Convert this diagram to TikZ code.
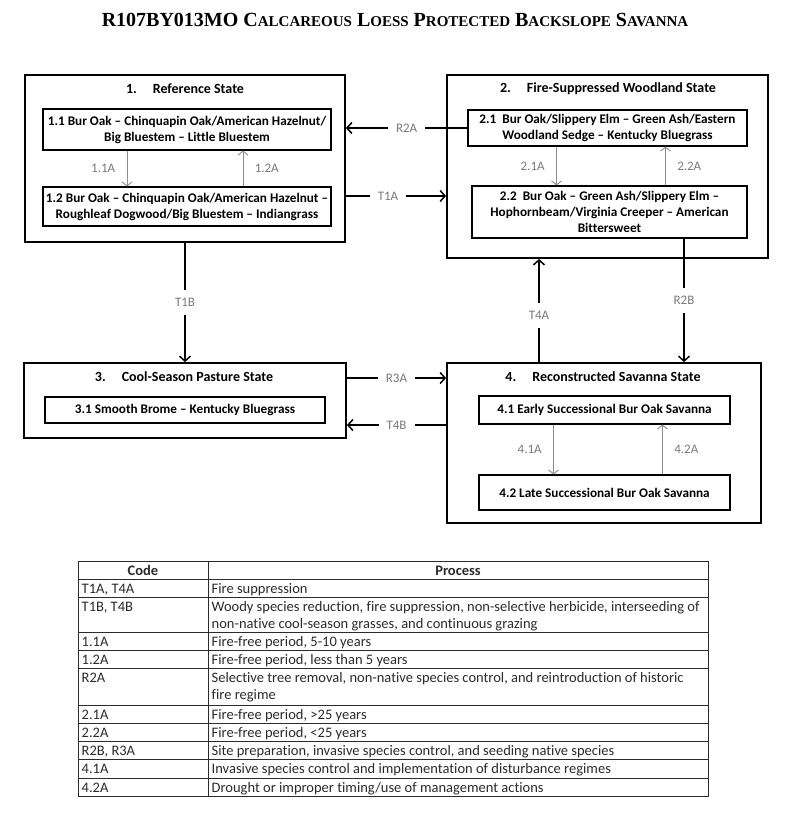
\documentclass[tikz,border=0pt]{standalone}
\usepackage{fontspec}
\setmainfont{Carlito}[Ligatures={TeX,NoCommon}]
\newfontfamily\titlefont{Liberation Serif}
\usetikzlibrary{positioning, arrows.meta, calc}
\definecolor{labelgray}{HTML}{7A7A7A}
\definecolor{pathgray}{HTML}{8C8C8C}
\definecolor{tablegray}{HTML}{2B2B2B}

% fake small caps for the heading
\newcommand{\titlesc}[2]{#1{\fontsize{15}{18}\selectfont #2}}

\tikzset{
  statebox/.style={draw, line width=1.8pt, minimum width=#1, inner sep=0pt},
  statetitle/.style={font=\bfseries\fontsize{14}{17}\selectfont},
  phasebox/.style={draw, line width=1.1pt, align=center, inner sep=0pt,
    font=\bfseries\fontsize{13.2}{16}\selectfont},
  trans/.style={line width=1.5pt, -{Straight Barb[length=5pt, width=11pt, line width=1.5pt]}},
  translabel/.style={fill=white, inner xsep=8pt, text=labelgray,
    font=\fontsize{13}{15}\selectfont},
  pathway/.style={draw=pathgray, line width=0.9pt, -{Straight Barb[length=4pt, width=10pt]}},
  pathlabel/.style={text=labelgray, font=\fontsize{13}{15}\selectfont},
  cell/.style={anchor=base west, inner sep=0pt, text=tablegray,
    font=\fontsize{14.5}{17}\selectfont},
}

\begin{document}
\begin{tikzpicture}[x=1pt, y=-1pt]
  \useasboundingbox[fill=white] (0,0) rectangle (800,819);

  \node[font=\titlefont\bfseries\fontsize{20}{24}\selectfont] (title) at (395,20)
    {R107BY013MO \titlesc{C}{ALCAREOUS} \titlesc{L}{OESS} \titlesc{P}{ROTECTED} \titlesc{B}{ACKSLOPE} \titlesc{S}{AVANNA}};

  % states
  \node[statebox=320pt, minimum height=167pt] (s1) at (185,158.5) {};
  \node[statebox=321pt, minimum height=183pt] (s2) at (607.5,166.5) {};
  \node[statebox=322pt, minimum height=75pt] (s3) at (185,400.5) {};
  \node[statebox=314pt, minimum height=160pt] (s4) at (604,443) {};

  \node[statetitle] (t1) at (185,89) {1.\hspace{16pt}Reference State};
  \node[statetitle] (t2) at (608,89) {2.\hspace{16pt}Fire-Suppressed Woodland State};
  \node[statetitle] (t3) at (184,377) {3.\hspace{16pt}Cool-Season Pasture State};
  \node[statetitle] (t4) at (603,377) {4.\hspace{16pt}Reconstructed Savanna State};

  % community phases
  \node[phasebox, minimum width=288pt, minimum height=41pt] (p11) at (187,129.5)
    {1.1 Bur Oak -- Chinquapin Oak/American Hazelnut/\\Big Bluestem -- Little Bluestem};
  \node[phasebox, minimum width=288pt, minimum height=39pt] (p12) at (187,206.5)
    {1.2 Bur Oak -- Chinquapin Oak/American Hazelnut --\\Roughleaf Dogwood/Big Bluestem -- Indiangrass};
  \node[phasebox, minimum width=279pt, minimum height=36pt] (p21) at (607.5,128)
    {2.1\ \ Bur Oak/Slippery Elm -- Green Ash/Eastern\\Woodland Sedge -- Kentucky Bluegrass};
  \node[phasebox, minimum width=275pt, minimum height=52pt] (p22) at (609.5,212)
    {2.2\ \ Bur Oak -- Green Ash/Slippery Elm --\\Hophornbeam/Virginia Creeper -- American\\Bittersweet};
  \node[phasebox, minimum width=280pt, minimum height=26pt] (p31) at (185,410)
    {3.1 Smooth Brome -- Kentucky Bluegrass};
  \node[phasebox, minimum width=251pt, minimum height=28pt] (p41) at (604.5,410)
    {4.1 Early Successional Bur Oak Savanna};
  \node[phasebox, minimum width=251pt, minimum height=35pt] (p42) at (604.5,492.5)
    {4.2 Late Successional Bur Oak Savanna};

  % pathways inside states
  \draw[pathway] ([xshift=-60pt]p11.south) -- ([xshift=-60pt]p11.south |- p12.north)
    node[pathlabel, midway, left=8pt] {1.1A};
  \draw[pathway] ([xshift=56pt]p12.north) -- ([xshift=56pt]p12.north |- p11.south)
    node[pathlabel, midway, right=8pt] {1.2A};
  \draw[pathway] ([xshift=-51pt]p21.south) -- ([xshift=-51pt]p21.south |- p22.north)
    node[pathlabel, midway, left=8pt] {2.1A};
  \draw[pathway] ([xshift=58pt]p21.south |- p22.north) -- ([xshift=58pt]p21.south)
    node[pathlabel, midway, right=8pt] {2.2A};
  \draw[pathway] ([xshift=-51pt]p41.south) -- ([xshift=-51pt]p41.south |- p42.north)
    node[pathlabel, midway, left=8pt] {4.1A};
  \draw[pathway] ([xshift=58pt]p42.north) -- ([xshift=58pt]p42.north |- p41.south)
    node[pathlabel, midway, right=8pt] {4.2A};

  % transitions between states
  \draw[trans] (p21.west) -- (p21.west -| s1.east)
    node[translabel, midway] {R2A};
  \draw[trans] ([yshift=-37.5pt]s1.east) -- ([yshift=-37.5pt]s1.east -| s2.west)
    node[translabel, pos=0.42] {T1A};
  \draw[trans] (s1.south) -- (s3.north)
    node[translabel, midway, inner ysep=8pt] {T1B};
  \draw[trans] ([xshift=74.5pt]p22.south) -- ([xshift=74.5pt]p22.south |- s4.north)
    node[translabel, midway, inner ysep=8pt] {R2B};
  \draw[trans] ([xshift=-65pt]s4.north) -- ([xshift=-65pt]s4.north |- s2.south)
    node[translabel, pos=0.45, inner ysep=8pt] {T4A};
  \draw[trans] ([yshift=22.5pt]s3.east) -- ([yshift=22.5pt]s3.east -| s4.west)
    node[translabel, midway] {R3A};
  \draw[trans] ([yshift=18pt]s4.west) -- ([yshift=18pt]s4.west -| s3.east)
    node[translabel, midway] {T4B};

  % process table
  \draw[tablegray, line width=0.9pt] (78,561.7) rectangle (708,796.7);
  \draw[tablegray, line width=0.9pt] (208,561.7) -- (208,796.7);
  \foreach \y in {579.3, 597.3, 632, 650, 668.3, 705, 723.3, 741.3, 759.3, 778}
    \draw[tablegray, line width=0.9pt] (78,\y) -- (708,\y);

  \node[cell, anchor=base, font=\bfseries\fontsize{14.5}{17}\selectfont] (hcode) at (143,575.8) {Code};
  \node[cell, anchor=base, font=\bfseries\fontsize{14.5}{17}\selectfont] (hproc) at (458,575.8) {Process};
  % \py is the baseline of the last line of the process text
  \foreach \i/\y/\py/\code/\proc in {
      1/593.8/593.8/{T1A, T4A}/{Fire suppression},
      2/611.8/628.8/{T1B, T4B}/{Woody species reduction, fire suppression, non-selective herbicide, interseeding of\\non-native cool-season grasses, and continuous grazing},
      3/646.5/646.5/{1.1A}/{Fire-free period, 5-10 years},
      4/664.5/664.5/{1.2A}/{Fire-free period, less than 5 years},
      5/682.8/699.8/{R2A}/{Selective tree removal, non-native species control, and reintroduction of historic\\fire regime},
      6/719.5/719.5/{2.1A}/{Fire-free period, >25 years},
      7/737.8/737.8/{2.2A}/{Fire-free period, <25 years},
      8/755.8/755.8/{R2B, R3A}/{Site preparation, invasive species control, and seeding native species},
      9/773.8/773.8/{4.1A}/{Invasive species control and implementation of disturbance regimes},
      10/792.5/792.5/{4.2A}/{Drought or improper timing/use of management actions}} {
    \node[cell] (code\i) at (81.5,\y) {\code};
    \node[cell, align=left] (proc\i) at (211.5,\py) {\proc};
  }
\end{tikzpicture}
\end{document}
